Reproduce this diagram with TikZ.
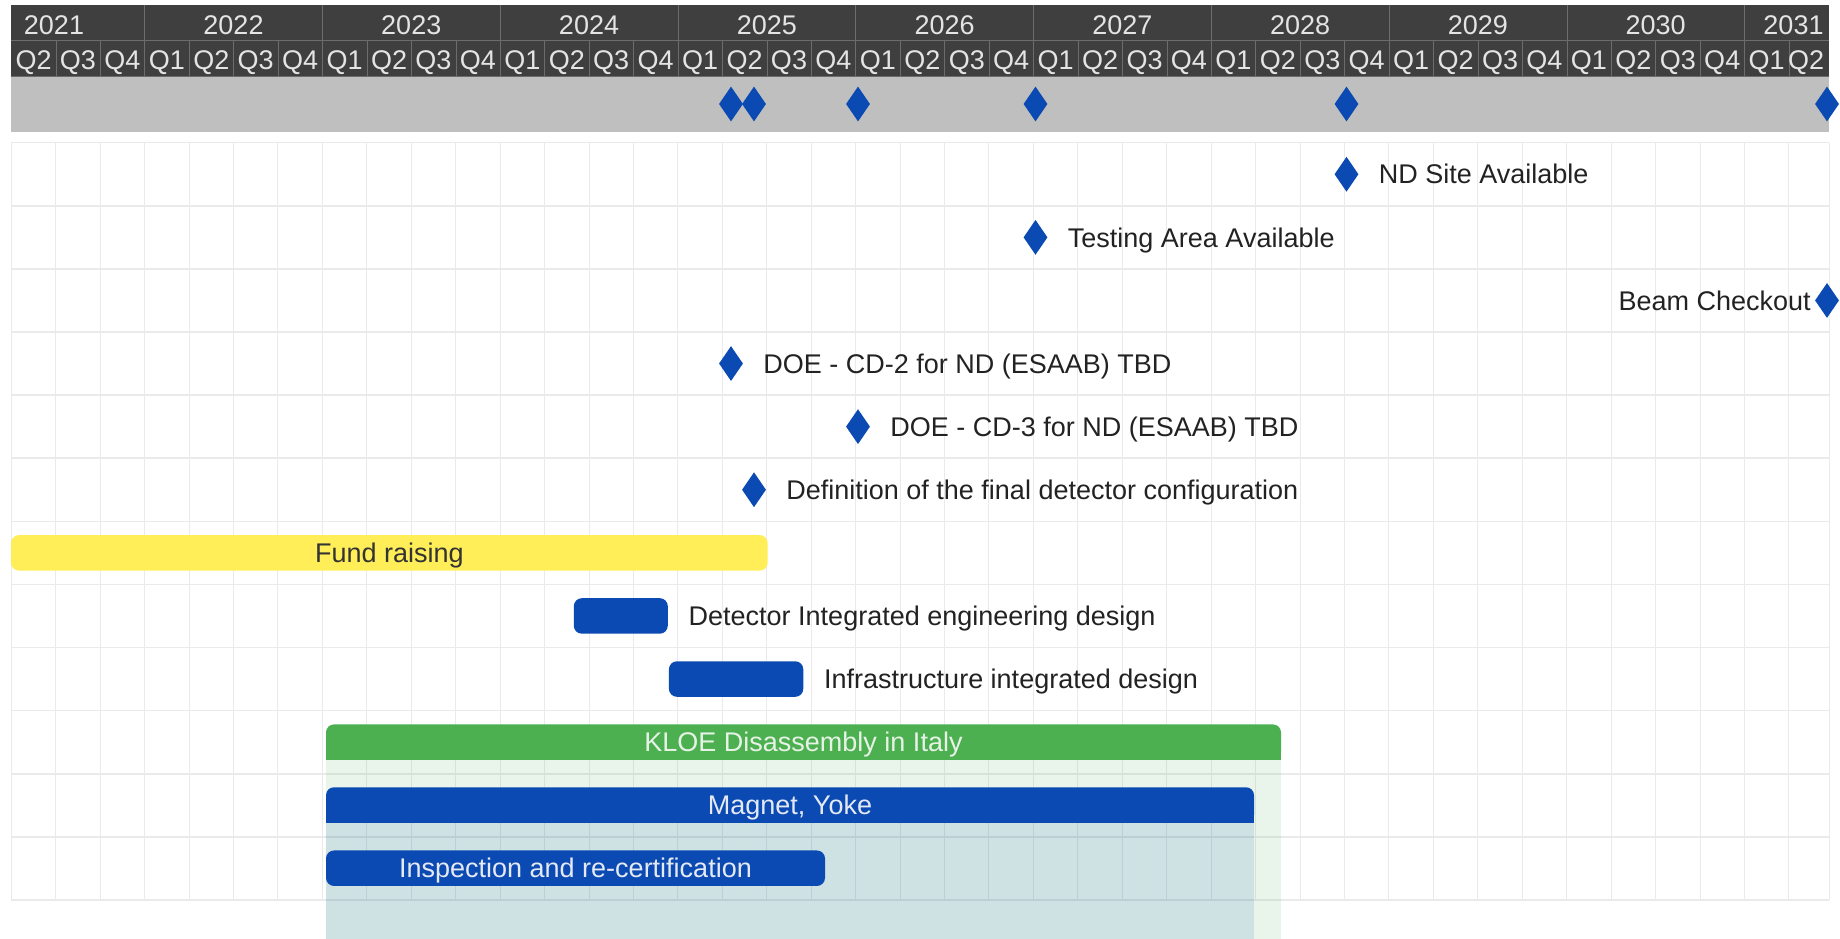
\documentclass[tikz,border=0pt]{standalone}
\usepackage{fontspec}
\setmainfont{Liberation Sans}
\usepackage{tikz}
\usetikzlibrary{shapes.geometric,positioning}
\definecolor{headdark}{HTML}{3F3F3F}
\definecolor{headline}{HTML}{6C6C6C}
\definecolor{headtext}{HTML}{E4E4E4}
\definecolor{bandgray}{HTML}{BFBFBF}
\definecolor{gridgray}{HTML}{EAEAEA}
\definecolor{taskblue}{HTML}{0B4AB2}
\definecolor{fundyellow}{HTML}{FFEE58}
\definecolor{fundtext}{HTML}{333333}
\definecolor{kloegreen}{HTML}{4CAF50}
\definecolor{kloetext}{HTML}{E6F2E6}
\definecolor{bartext}{HTML}{E4E9F4}
\definecolor{labeltext}{HTML}{222222}

\begin{document}
\begin{tikzpicture}[x=1pt,y=-1pt,
  lbl/.style={font=\fontsize{27}{30}\selectfont, text height=25pt, text depth=5.7pt, inner sep=0pt},
  hdr/.style={font=\fontsize{27}{30}\selectfont, text=headtext, anchor=base, inner sep=0pt},
  ms/.style={diamond, fill=taskblue, inner sep=0pt, minimum width=24pt, minimum height=35pt},
  mslabel/.style={lbl, text=labeltext},
  bar/.style={lbl, rounded corners=8pt, minimum height=35.5pt},
  taskbar/.style={bar, fill=taskblue, text=bartext},
  gridline/.style={draw=gridgray, line width=1pt}]
\useasboundingbox (0,0) rectangle (1840,939);
% time scale
\fill[headdark] (11.3,5) rectangle (1829,76);
\fill[bandgray] (11.3,76) rectangle (1829,131.7);
\draw[headline] (11.3,40.3) -- (1829,40.3);
\draw[headline] (11.3,76) -- (1829,76);
\foreach \q in {1,...,40} \draw[headline] ({11.3+44.44*\q},40.3) -- ({11.3+44.44*\q},76);
\foreach \q in {3,7,...,39} \draw[headline] ({11.3+44.44*\q},5) -- ({11.3+44.44*\q},40.3);
\foreach \q in {0,...,40} {
  \pgfmathtruncatemacro\qn{mod(\q+1,4)+1}
  \node[hdr] (q\q) at ({min(11.3+44.44*(\q+0.5),1806)},70) {Q\qn};
}
\node[hdr] (y2021) at (54,35) {2021};
\foreach \k in {0,...,8} {
  \pgfmathtruncatemacro\yr{2022+\k}
  \node[hdr] (y\yr) at ({11.3+44.44*(5+4*\k)},35) {\yr};
}
\node[hdr] (y2031) at (1793.5,35) {2031};
% grid
\foreach \q in {0,...,40} \draw[gridline] ({11.3+44.44*\q},142.7) -- ({11.3+44.44*\q},899.9);
\draw[gridline] (1829,142.7) -- (1829,899.9);
\foreach \r in {0,...,12} \draw[gridline, line width=1.6pt] (11.3,{142.7+63.1*\r}) -- (1829,{142.7+63.1*\r});
\fill[kloegreen, opacity=0.12] (326,760) rectangle (1281,939);
\fill[taskblue, opacity=0.12] (326,822.7) rectangle (1254,939);
% milestones in the band
\node[ms] (b1) at (731,104) {};
\node[ms] (b2) at (754,104) {};
\node[ms] (b3) at (858,104) {};
\node[ms] (b4) at (1035.5,104) {};
\node[ms] (b5) at (1346.5,104) {};
\node[ms] (b6) at (1827,104) {};
% milestones
\node[ms] (ms1) at (1346.5,174.25) {};
\node[mslabel, right=20pt of ms1] (ms1lbl) {ND Site Available};
\node[ms] (ms2) at (1035.5,237.35) {};
\node[mslabel, right=20pt of ms2] (ms2lbl) {Testing Area Available};
\node[ms] (ms3) at (1827,300.45) {};
\node[mslabel, left=4pt of ms3] (ms3lbl) {Beam Checkout};
\node[ms] (ms4) at (731,363.55) {};
\node[mslabel, right=20pt of ms4] (ms4lbl) {DOE - CD-2 for ND (ESAAB) TBD};
\node[ms] (ms5) at (858,426.65) {};
\node[mslabel, right=20pt of ms5] (ms5lbl) {DOE - CD-3 for ND (ESAAB) TBD};
\node[ms] (ms6) at (754,489.75) {};
\node[mslabel, right=20pt of ms6] (ms6lbl) {Definition of the final detector configuration};
% tasks
\node[bar, fill=fundyellow, text=fundtext, minimum width=756.7pt] (fund) at (389.35,552.85) {Fund raising};
\node[taskbar, minimum width=94pt] (detbar) at (620.8,615.95) {};
\node[mslabel, right=20.5pt of detbar] (detlbl) {Detector Integrated engineering design};
\node[taskbar, minimum width=134.4pt] (infbar) at (736.1,679.05) {};
\node[mslabel, right=20.5pt of infbar] (inflbl) {Infrastructure integrated design};
\fill[kloegreen] (326,742.2) rectangle (1281,760);
\node[bar, fill=kloegreen, text=kloetext, minimum width=955pt] (kloe) at (803.5,742.15) {KLOE Disassembly in Italy};
\fill[taskblue] (326,805.1) rectangle (1254,822.7);
\node[taskbar, minimum width=928pt] (magnet) at (790,805) {Magnet, Yoke};
\node[taskbar, minimum width=499pt] (insp) at (575.5,868.2) {Inspection and re-certification};
\end{tikzpicture}
\end{document}
